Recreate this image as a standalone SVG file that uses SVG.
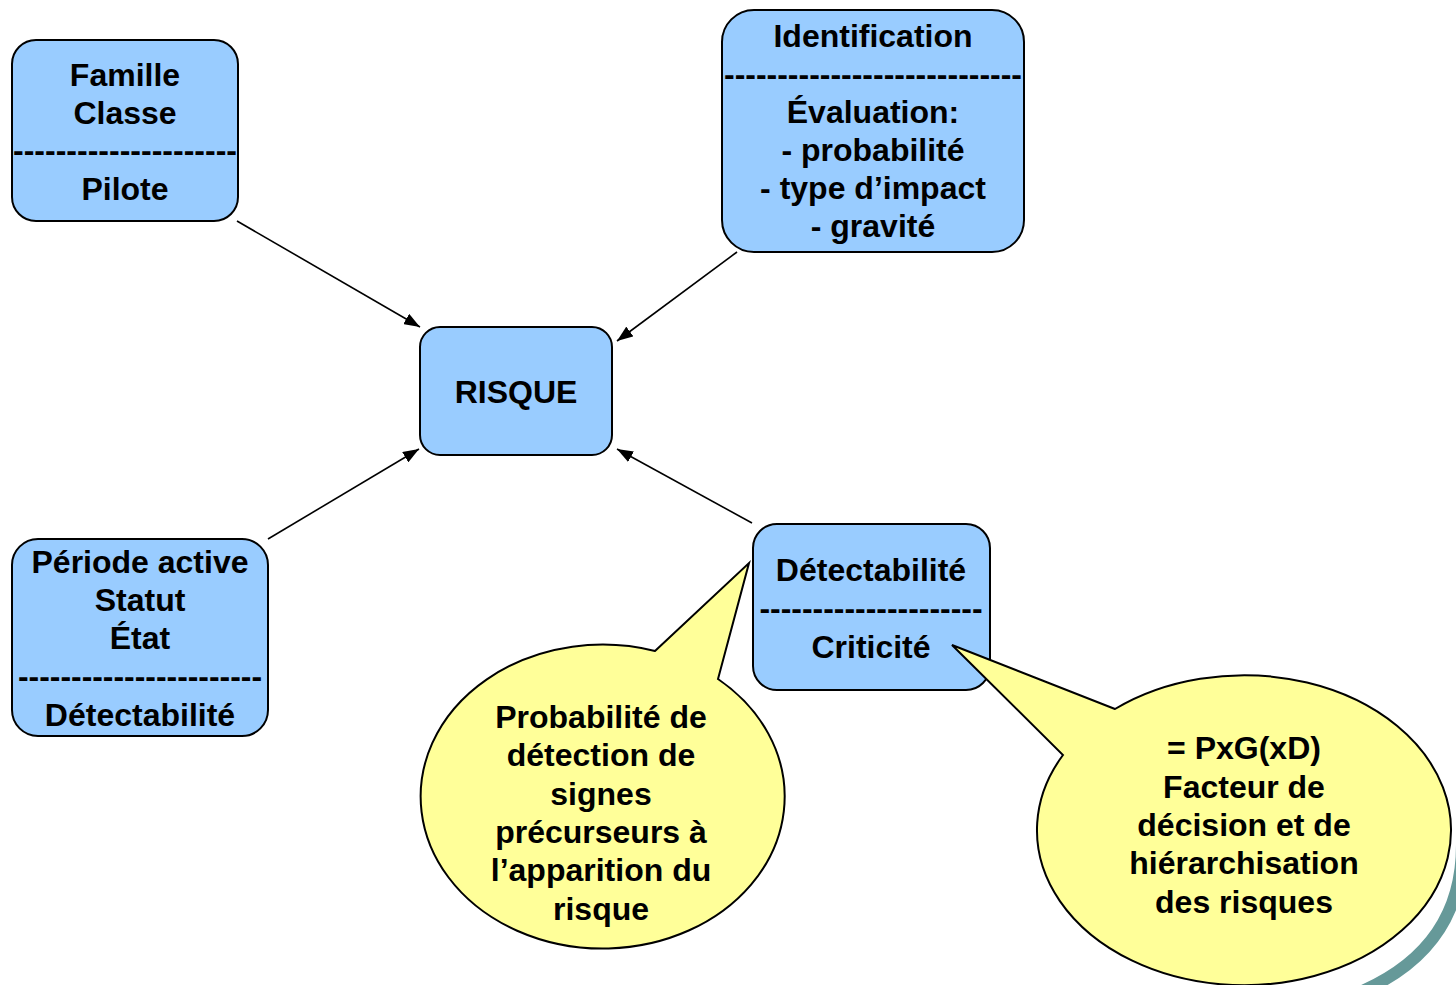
<svg xmlns="http://www.w3.org/2000/svg" width="1456" height="985" viewBox="0 0 1456 985">
<style>
.box{fill:#99CCFF;stroke:#000;stroke-width:2}
.call{fill:#FFFF99;stroke:#000;stroke-width:2;stroke-linejoin:miter}
.t{font-family:"Liberation Sans",Arial,sans-serif;font-weight:bold;font-size:32px;fill:#000;text-anchor:middle}
.con{stroke:#000;stroke-width:1.6;fill:none;marker-end:url(#ah)}
</style>
<defs>
<marker id="ah" markerUnits="userSpaceOnUse" markerWidth="16" markerHeight="12" refX="16" refY="6" orient="auto">
<path d="M0,0 L16,6 L0,12 z" fill="#000"/>
</marker>
</defs>
<rect width="1456" height="985" fill="#fff"/>
<path d="M1462,845 C1462,905 1436,965 1345,998" fill="none" stroke="#669999" stroke-width="12"/>
<g id="connectors">
<line class="con" x1="237" y1="221" x2="420" y2="327"/>
<line class="con" x1="737" y1="252" x2="617" y2="341"/>
<line class="con" x1="268" y1="539" x2="419" y2="449"/>
<line class="con" x1="752" y1="523" x2="617" y2="449"/>
</g>
<g id="famille">
<rect class="box" x="12" y="40" width="226" height="181" rx="24"/>
<text class="t" x="125" y="86">Famille</text>
<text class="t" x="125" y="124">Classe</text>
<text class="t" x="125" y="161" textLength="224" lengthAdjust="spacingAndGlyphs">---------------------</text>
<text class="t" x="125" y="200">Pilote</text>
</g>
<g id="identification">
<rect class="box" x="722" y="10" width="302" height="242" rx="32"/>
<text class="t" x="873" y="47">Identification</text>
<text class="t" x="873" y="85" textLength="298" lengthAdjust="spacingAndGlyphs">----------------------------</text>
<text class="t" x="873" y="123">Évaluation:</text>
<text class="t" x="873" y="161">- probabilité</text>
<text class="t" x="873" y="199">- type d’impact</text>
<text class="t" x="873" y="237">- gravité</text>
</g>
<g id="risque">
<rect class="box" x="420" y="327" width="192" height="128" rx="20"/>
<text class="t" x="516" y="403">RISQUE</text>
</g>
<g id="periode">
<rect class="box" x="12" y="539" width="256" height="197" rx="26"/>
<text class="t" x="140" y="573">Période active</text>
<text class="t" x="140" y="611">Statut</text>
<text class="t" x="140" y="649">État</text>
<text class="t" x="140" y="687" textLength="244" lengthAdjust="spacingAndGlyphs">-----------------------</text>
<text class="t" x="140" y="726">Détectabilité</text>
</g>
<g id="detectabilite">
<rect class="box" x="753" y="524" width="237" height="166" rx="24"/>
<text class="t" x="871" y="581">Détectabilité</text>
<text class="t" x="871" y="619" textLength="223" lengthAdjust="spacingAndGlyphs">---------------------</text>
<text class="t" x="871" y="658">Criticité</text>
</g>
<g id="callout-probabilite">
<path class="call" d="M655,651 L749,563 L718,679 A182,152 0 1,1 655,651 Z"/>
<text class="t" x="601" y="728">Probabilité de</text>
<text class="t" x="601" y="766">détection de</text>
<text class="t" x="601" y="805">signes</text>
<text class="t" x="601" y="843">précurseurs à</text>
<text class="t" x="601" y="881">l’apparition du</text>
<text class="t" x="601" y="920">risque</text>
</g>
<g id="callout-criticite">
<path class="call" d="M1115,709 L952,645 L1063,755 A207,155 0 1,0 1115,709 Z"/>
<text class="t" x="1244" y="759">= PxG(xD)</text>
<text class="t" x="1244" y="798">Facteur de</text>
<text class="t" x="1244" y="836">décision et de</text>
<text class="t" x="1244" y="874">hiérarchisation</text>
<text class="t" x="1244" y="913">des risques</text>
</g>
</svg>
